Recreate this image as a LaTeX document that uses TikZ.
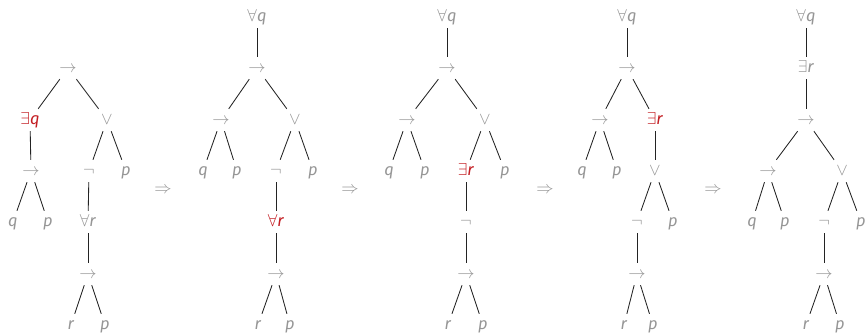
\documentclass[tikz,border=0pt]{standalone}
\usepackage{fontspec}
\setmainfont{Fira Sans}
\definecolor{lbl}{RGB}{150,150,150}
\definecolor{hl}{RGB}{195,30,35}
\definecolor{lnc}{RGB}{35,35,35}
\tikzset{
  lab/.style={text=lbl, font=\fontsize{16.5}{18}\selectfont, text height=12pt, text depth=4pt, inner ysep=3pt, inner xsep=1pt, minimum width=22pt},
  hot/.style={lab, text=hl},
  edg/.style={draw=lnc, line width=0.85pt},
}
\newcommand\vq{\textit{q}}
\newcommand\vp{\textit{p}}
\newcommand\vr{\textit{r}}
\begin{document}
\begin{tikzpicture}[x=1pt,y=-1pt]
\useasboundingbox (0,0) rectangle (867,335);
\def\RA{17}\def\RB{68}\def\RC{120}\def\RD{171}\def\RE{222}\def\RF{274}\def\RG{325}
% tree 1
\node[lab] (a1) at (68,\RB) {$\rightarrow$};
\node[hot] (a2) at (30,\RC) {$\exists$\vq};
\node[lab] (a3) at (107,\RC) {$\vee$};
\node[lab] (a4) at (31,\RD) {$\rightarrow$};
\node[lab] (a5) at (89,\RD) {$\neg$};
\node[lab] (a6) at (126,\RD) {\vp};
\node[lab] (a7) at (13,\RE) {\vq};
\node[lab] (a8) at (48,\RE) {\vp};
\node[lab] (a9) at (88,\RE) {$\forall$\vr};
\node[lab] (a10) at (88,\RF) {$\rightarrow$};
\node[lab] (a11) at (71,\RG) {\vr};
\node[lab] (a12) at (105,\RG) {\vp};
\foreach \u/\v in {a1/a2,a1/a3,a2/a4,a4/a7,a4/a8,a3/a5,a3/a6,a5/a9,a9/a10,a10/a11,a10/a12}
  \draw[edg] (\u) -- (\v);
% tree 2
\node[lab] (b1) at (257,\RA) {$\forall$\vq};
\node[lab] (b2) at (257,\RB) {$\rightarrow$};
\node[lab] (b3) at (221,\RC) {$\rightarrow$};
\node[lab] (b4) at (295,\RC) {$\vee$};
\node[lab] (b5) at (203,\RD) {\vq};
\node[lab] (b6) at (237,\RD) {\vp};
\node[lab] (b7) at (276,\RD) {$\neg$};
\node[lab] (b8) at (313,\RD) {\vp};
\node[hot] (b9) at (276,\RE) {$\forall$\vr};
\node[lab] (b10) at (276,\RF) {$\rightarrow$};
\node[lab] (b11) at (258,\RG) {\vr};
\node[lab] (b12) at (290,\RG) {\vp};
\foreach \u/\v in {b1/b2,b2/b3,b2/b4,b3/b5,b3/b6,b4/b7,b4/b8,b7/b9,b9/b10,b10/b11,b10/b12}
  \draw[edg] (\u) -- (\v);
% tree 3
\node[lab] (c1) at (447,\RA) {$\forall$\vq};
\node[lab] (c2) at (447,\RB) {$\rightarrow$};
\node[lab] (c3) at (407,\RC) {$\rightarrow$};
\node[lab] (c4) at (485,\RC) {$\vee$};
\node[lab] (c5) at (389,\RD) {\vq};
\node[lab] (c6) at (425,\RD) {\vp};
\node[hot] (c7) at (466,\RD) {$\exists$\vr};
\node[lab] (c8) at (505,\RD) {\vp};
\node[lab] (c9) at (466,\RE) {$\neg$};
\node[lab] (c10) at (466,\RF) {$\rightarrow$};
\node[lab] (c11) at (448,\RG) {\vr};
\node[lab] (c12) at (483,\RG) {\vp};
\foreach \u/\v in {c1/c2,c2/c3,c2/c4,c3/c5,c3/c6,c4/c7,c4/c8,c7/c9,c9/c10,c10/c11,c10/c12}
  \draw[edg] (\u) -- (\v);
% tree 4
\node[lab] (d1) at (627,\RA) {$\forall$\vq};
\node[lab] (d2) at (627,\RB) {$\rightarrow$};
\node[lab] (d3) at (600,\RC) {$\rightarrow$};
\node[hot] (d4) at (655,\RC) {$\exists$\vr};
\node[lab] (d5) at (582,\RD) {\vq};
\node[lab] (d6) at (617,\RD) {\vp};
\node[lab] (d7) at (655,\RD) {$\vee$};
\node[lab] (d8) at (637,\RE) {$\neg$};
\node[lab] (d9) at (673,\RE) {\vp};
\node[lab] (d10) at (637,\RF) {$\rightarrow$};
\node[lab] (d11) at (624,\RG) {\vr};
\node[lab] (d12) at (653,\RG) {\vp};
\foreach \u/\v in {d1/d2,d2/d3,d2/d4,d3/d5,d3/d6,d4/d7,d7/d8,d7/d9,d8/d10,d10/d11,d10/d12}
  \draw[edg] (\u) -- (\v);
% tree 5
\node[lab] (e1) at (806,\RA) {$\forall$\vq};
\node[lab] (e2) at (806,\RB) {$\exists$\vr};
\node[lab] (e3) at (806,\RC) {$\rightarrow$};
\node[lab] (e4) at (768,\RD) {$\rightarrow$};
\node[lab] (e5) at (842,\RD) {$\vee$};
\node[lab] (e6) at (752,\RE) {\vq};
\node[lab] (e7) at (785,\RE) {\vp};
\node[lab] (e8) at (824,\RE) {$\neg$};
\node[lab] (e9) at (861,\RE) {\vp};
\node[lab] (e10) at (824,\RF) {$\rightarrow$};
\node[lab] (e11) at (806,\RG) {\vr};
\node[lab] (e12) at (840,\RG) {\vp};
\foreach \u/\v in {e1/e2,e2/e3,e3/e4,e3/e5,e4/e6,e4/e7,e5/e8,e5/e9,e8/e10,e10/e11,e10/e12}
  \draw[edg] (\u) -- (\v);
% transformation arrows
\node[lab] (s1) at (163,189) {$\Rightarrow$};
\node[lab] (s2) at (350,189) {$\Rightarrow$};
\node[lab] (s3) at (545,189) {$\Rightarrow$};
\node[lab] (s4) at (713,189) {$\Rightarrow$};
\end{tikzpicture}
\end{document}
